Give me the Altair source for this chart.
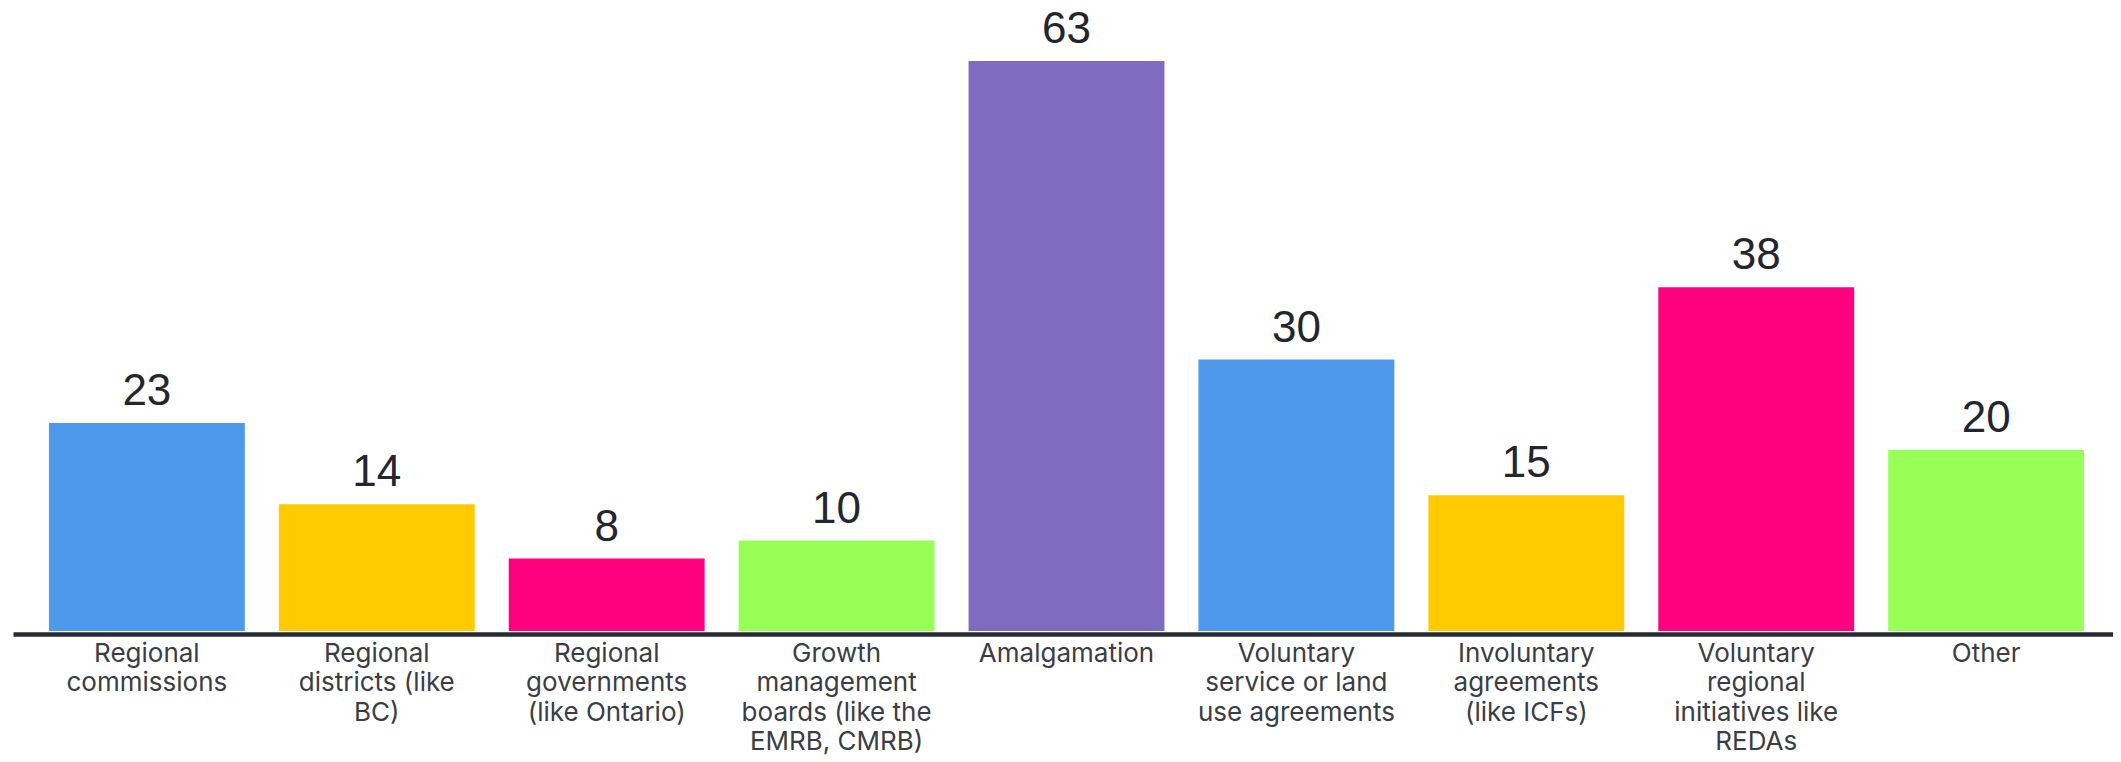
import altair as alt
import pandas as pd

categories = [
    "Regional\ncommissions",
    "Regional\ndistricts (like\nBC)",
    "Regional\ngovernments\n(like Ontario)",
    "Growth\nmanagement\nboards (like the\nEMRB, CMRB)",
    "Amalgamation",
    "Voluntary\nservice or land\nuse agreements",
    "Involuntary\nagreements\n(like ICFs)",
    "Voluntary\nregional\ninitiatives like\nREDAs",
    "Other",
]
values = [23, 14, 8, 10, 63, 30, 15, 38, 20]
colors = ["#4f99ec", "#ffcb00", "#ff007f", "#98ff58", "#7f6bbf",
          "#4f99ec", "#ffcb00", "#ff007f", "#98ff58"]

df = pd.DataFrame({"category": categories, "value": values})

x_axis = alt.Axis(
    title=None,
    labelAngle=0,
    labelExpr="split(datum.label, '\\n')",
    labelFont="Inter",
    labelFontSize=26,
    labelColor="#3a3d45",
    labelLineHeight=29.5,
    labelBaseline="top",
    labelPadding=6,
    labelLimit=400,
    ticks=False,
    domain=True,
    domainColor="#272a33",
    domainWidth=4.5,
    offset=3,
    grid=False,
)
x_scale = alt.Scale(paddingInner=0.148, paddingOuter=0.141, align=0.554)
y_scale = alt.Scale(domain=[0, 63], nice=False, zero=True)

bars = alt.Chart(df).mark_bar(cornerRadius=0).encode(
    x=alt.X("category:N", sort=categories, scale=x_scale, axis=x_axis),
    y=alt.Y("value:Q", scale=y_scale, axis=None),
    color=alt.Color("category:N", scale=alt.Scale(domain=categories, range=colors), legend=None),
)

labels = alt.Chart(df).mark_text(
    baseline="alphabetic",
    dy=-18,
    font="Liberation Sans",
    fontSize=44,
    color="#23262e",
).encode(
    x=alt.X("category:N", sort=categories, scale=x_scale, axis=x_axis),
    y=alt.Y("value:Q", scale=y_scale, axis=None),
    text=alt.Text("value:Q"),
)

chart = (
    alt.layer(bars, labels)
    .properties(
        width=2100,
        height=570,
        autosize=alt.AutoSizeParams(type="none"),
        padding={"left": 5, "top": 53, "right": 0, "bottom": 128},
        view=alt.ViewBackground(stroke="#ffffff", strokeWidth=0, strokeOpacity=0),
    )
    .configure_view(strokeWidth=0, stroke="#ffffff", strokeOpacity=0)
    .configure_axis(grid=False)
    .configure(background="white")
)

chart.save("out.html", embed_options={"renderer": "svg", "actions": False})
